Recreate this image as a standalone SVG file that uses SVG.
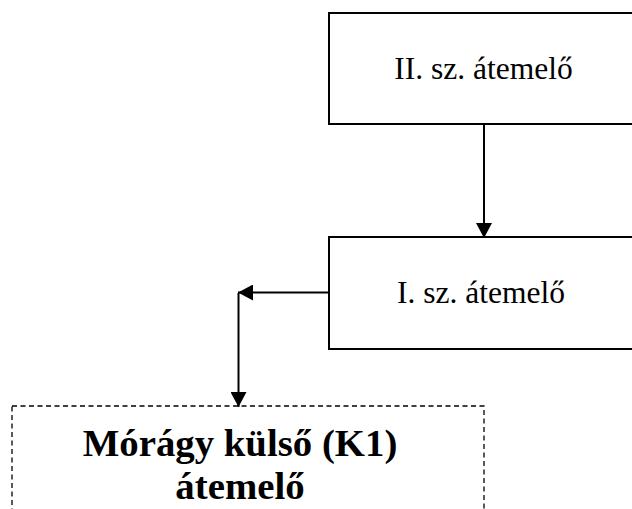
<svg xmlns="http://www.w3.org/2000/svg" width="632" height="509" viewBox="0 0 632 509">
  <defs>
    <style>
      .box { fill: #ffffff; stroke: #000000; stroke-width: 2; }
      .dashed { fill: #ffffff; stroke: #000000; stroke-width: 1.3; stroke-dasharray: 5 3.5; }
      .label { font-family: "Liberation Serif", "Times New Roman", serif; font-size: 31.5px; fill: #000000; text-anchor: middle; }
      .bold { font-family: "Liberation Serif", "Times New Roman", serif; font-size: 38.8px; font-weight: bold; fill: #000000; text-anchor: middle; }
      .wire { fill: none; stroke: #000000; stroke-width: 2; }
    </style>
    <marker id="arrow" viewBox="0 0 15 16" refX="15" refY="8" markerWidth="15" markerHeight="16" markerUnits="userSpaceOnUse" orient="auto">
      <path d="M0,0 L15,8 L0,16 Z" fill="#000000"/>
    </marker>
  </defs>

  <rect width="632" height="509" fill="#ffffff"/>

  <!-- station II -->
  <g id="node-station-2">
    <rect class="box" x="329" y="13" width="320" height="111"/>
    <text class="label" x="483.5" y="79">II. sz. átemelő</text>
  </g>

  <!-- station I -->
  <g id="node-station-1">
    <rect class="box" x="329" y="237" width="320" height="112"/>
    <text class="label" x="481" y="303">I. sz. átemelő</text>
  </g>

  <!-- outer pumping station K1 -->
  <g id="node-k1">
    <rect class="dashed" x="12" y="406" width="472" height="130"/>
    <text class="bold" x="240" y="456">Mórágy külső (K1)</text>
    <text class="bold" x="240" y="499">átemelő</text>
  </g>

  <!-- connectors -->
  <g id="connectors">
    <line class="wire" x1="484" y1="124" x2="484" y2="238" marker-end="url(#arrow)"/>
    <line class="wire" x1="328" y1="292.5" x2="238" y2="292.5" marker-end="url(#arrow)"/>
    <line class="wire" x1="238.5" y1="293" x2="238.5" y2="407" marker-end="url(#arrow)"/>
  </g>
</svg>
